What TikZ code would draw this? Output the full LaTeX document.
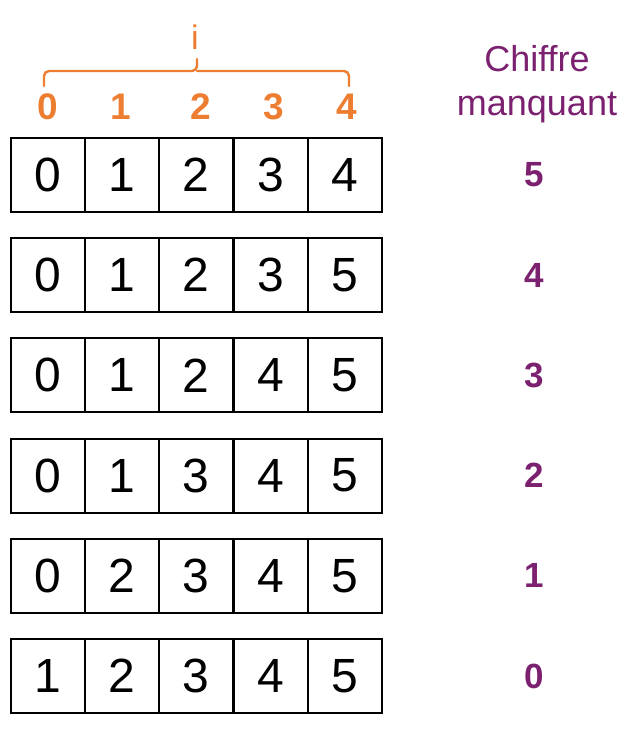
\documentclass[tikz,border=0pt]{standalone}
\usepackage{fontspec}
\setmainfont{Liberation Sans}
\definecolor{orng}{HTML}{ED7D31}
\definecolor{purp}{HTML}{7B2170}
\begin{document}
\begin{tikzpicture}[x=1pt,y=-1pt,
  cell/.style={draw=black,line width=2pt,minimum width=74pt,minimum height=74pt,inner sep=0pt,font=\fontsize{48}{56}\selectfont},
  idx/.style={text=orng,font=\fontsize{37}{42}\selectfont\bfseries},
  miss/.style={text=purp,font=\fontsize{35}{40}\selectfont\bfseries},
  hdr/.style={text=purp,font=\fontsize{36}{44}\selectfont,align=center}]
\useasboundingbox (0,0) rectangle (644,737);
% index labels
\foreach \t/\x in {0/48,1/121,2/201,3/274,4/347}
  \node[idx] (L\t) at (\x,107) {\t};
\node[text=orng,font=\fontsize{34}{38}\selectfont] (I) at (195,37) {i};
% brace
\coordinate (bl) at (44,86);
\coordinate (br) at (349,86);
\draw[orng,line width=2.4pt,line cap=round,rounded corners=5pt]
  (bl) -- (44,71) -- (197,71) -- (197,59);
\draw[orng,line width=2.4pt,line cap=round,rounded corners=5pt]
  (197,71) -- (349,71) -- (br);
% header
\node[hdr] (H) at (537,84) {Chiffre\\manquant};
% rows
\foreach \r/\a/\b/\c/\d/\e/\m [count=\k from 0] in {
  1/0/1/2/3/4/5, 2/0/1/2/3/5/4, 3/0/1/2/4/5/3,
  4/0/1/3/4/5/2, 5/0/2/3/4/5/1, 6/1/2/3/4/5/0} {
  \pgfmathsetmacro{\yy}{175+100.2*\k}
  \node[cell] (c\r a) at (48,\yy) {\a};
  \node[cell] (c\r b) at (122,\yy) {\b};
  \node[cell] (c\r c) at (196,\yy) {\c};
  \node[cell] (c\r d) at (270.5,\yy) {\d};
  \node[cell] (c\r e) at (345,\yy) {\e};
  \node[miss] (m\r) at (534,\yy) {\m};
}
\end{tikzpicture}
\end{document}
